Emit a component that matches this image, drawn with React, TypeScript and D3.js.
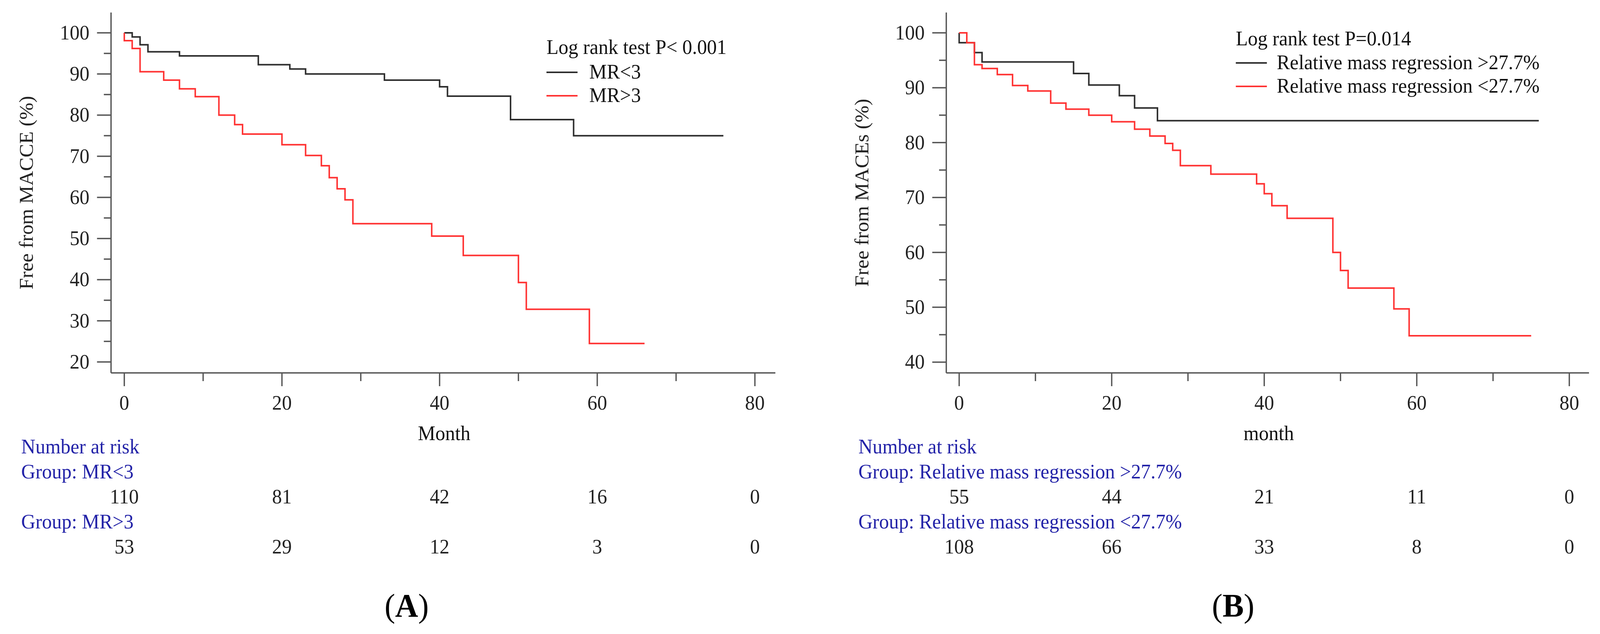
import React, { useEffect } from "react";
import * as d3 from "d3";

// Panel A: MR groups
const timesA1 = [0, 1, 2, 3, 7, 17, 21, 23, 33, 40, 41, 49, 57, 76];
const survA1 = [100, 99, 97.1, 95.4, 94.4, 92.25, 91.2, 90, 88.5, 86.9, 84.6, 78.9, 75, 75];
const timesA2 = [0, 0, 1, 2, 5, 7, 9, 12, 14, 15, 20, 23, 25, 26, 27, 28, 29, 39, 43, 50, 51, 59, 66];
const survA2 = [100, 98.1, 96.2, 90.55, 88.5, 86.4, 84.5, 80, 77.7, 75.4, 72.8, 70.2, 67.7, 64.8, 62.1, 59.4, 53.6, 50.6, 45.9, 39.3, 32.8, 24.5, 24.5];
const riskA1 = [110, 81, 42, 16, 0];
const riskA2 = [53, 29, 12, 3, 0];

// Panel B: relative mass regression groups
const timesB1 = [0, 0, 2, 3, 15, 17, 21, 23, 26, 76];
const survB1 = [100, 98.2, 96.4, 94.7, 92.6, 90.5, 88.55, 86.3, 84.0, 84.0];
const timesB2 = [0, 1, 2, 3, 5, 7, 9, 12, 14, 17, 20, 23, 25, 27, 28, 29, 33, 39, 40, 41, 43, 49, 50, 51, 57, 59, 75];
const survB2 = [100, 98.2, 94.2, 93.5, 92.4, 90.4, 89.4, 87.2, 86.1, 85.0, 83.8, 82.45, 81.2, 79.85, 78.6, 75.8, 74.25, 72.5, 70.7, 68.5, 66.2, 60.0, 56.7, 53.5, 49.7, 44.8, 44.8];
const riskB1 = [55, 44, 21, 11, 0];
const riskB2 = [108, 66, 33, 8, 0];

const riskTimes = [0, 20, 40, 60, 80];
const xMajor = [0, 20, 40, 60, 80];
const xMinor = [10, 30, 50, 70];

const W = 4222;
const H = 1622;
const FONT = "'Liberation Serif', 'Times New Roman', serif";
const FS = 52;
const AXIS = "#555555";
const BLACK = "#2e2e2e";
const RED = "#ff3333";
const BLUE = "#2323a8";

interface PanelProps {
  x0: number; // pixel of month 0
  x80: number; // pixel of month 80
  yAxisX: number;
  xAxisEnd: number;
  yDomain: [number, number];
  yRange: [number, number];
  yTop: number;
  yLabel: string;
  xLabel: string;
  xLabelX: number;
  legendX: number;
  legendTitleY: number;
  legendTitle: string;
  legendNames: string[];
  legendTextX: number;
  legendRowY: number[];
  curves: { t: number[]; s: number[]; color: string }[];
  riskLabelX: number;
  groupNames: string[];
  risks: number[][];
  panelLabel: string;
  panelLabelX: number;
}

const Panel: React.FC<PanelProps> = (p) => {
  const x = d3.scaleLinear().domain([0, 80]).range([p.x0, p.x80]);
  const y = d3.scaleLinear().domain(p.yDomain).range(p.yRange);
  const xAxisY = 954;

  const yMajor = d3.range(p.yDomain[0], p.yDomain[1] + 1, 10);
  const yMinor = d3.range(p.yDomain[0] + 5, p.yDomain[1], 10);

  const line = d3
    .line<[number, number]>()
    .x((d) => x(d[0]))
    .y((d) => y(d[1]))
    .curve(d3.curveStepAfter);

  return (
    <g fontFamily={FONT} fontSize={FS}>
      {/* axes */}
      <line x1={p.yAxisX} x2={p.yAxisX} y1={p.yTop} y2={xAxisY} stroke={AXIS} strokeWidth={3.5} />
      <line x1={p.yAxisX} x2={p.xAxisEnd} y1={xAxisY} y2={xAxisY} stroke={AXIS} strokeWidth={3.5} />
      {yMajor.map((v) => (
        <g key={"ym" + v}>
          <line x1={p.yAxisX - 37} x2={p.yAxisX} y1={y(v)} y2={y(v)} stroke={AXIS} strokeWidth={3.5} />
          <text x={p.yAxisX - 57} y={y(v) + 17} textAnchor="end" fill="#222">
            {v}
          </text>
        </g>
      ))}
      {yMinor.map((v) => (
        <line key={"yn" + v} x1={p.yAxisX - 19} x2={p.yAxisX} y1={y(v)} y2={y(v)} stroke={AXIS} strokeWidth={3.5} />
      ))}
      {xMajor.map((v) => (
        <g key={"xm" + v}>
          <line x1={x(v)} x2={x(v)} y1={xAxisY} y2={xAxisY + 34} stroke={AXIS} strokeWidth={3.5} />
          <text x={x(v)} y={1048} textAnchor="middle" fill="#222">
            {v}
          </text>
        </g>
      ))}
      {xMinor.map((v) => (
        <line key={"xn" + v} x1={x(v)} x2={x(v)} y1={xAxisY} y2={xAxisY + 21} stroke={AXIS} strokeWidth={3.5} />
      ))}
      <text x={p.xLabelX} y={1126} textAnchor="middle" fill="#111">
        {p.xLabel}
      </text>
      <text
        transform={`translate(${p.yAxisX - 206}, ${(p.yTop + xAxisY) / 2}) rotate(-90)`}
        textAnchor="middle"
        fill="#222"
      >
        {p.yLabel}
      </text>

      {/* survival curves */}
      {p.curves.map((c, i) => (
        <path
          key={"c" + i}
          d={line(c.t.map((t, j) => [t, c.s[j]] as [number, number])) || ""}
          fill="none"
          stroke={c.color}
          strokeWidth={4}
        />
      ))}

      {/* legend */}
      <text x={p.legendX} y={p.legendTitleY} fill="#111">
        {p.legendTitle}
      </text>
      {p.legendNames.map((n, i) => (
        <g key={"lg" + i}>
          <line
            x1={p.legendX}
            x2={p.legendX + 82}
            y1={p.legendRowY[i]}
            y2={p.legendRowY[i]}
            stroke={p.curves[i].color}
            strokeWidth={4}
          />
          <text x={p.legendTextX} y={p.legendRowY[i] + 16} fill="#111">
            {n}
          </text>
        </g>
      ))}

      {/* number at risk */}
      <text x={p.riskLabelX} y={1160} fill={BLUE}>
        Number at risk
      </text>
      {p.groupNames.map((g, i) => (
        <g key={"rg" + i}>
          <text x={p.riskLabelX} y={1224 + i * 128} fill={BLUE}>
            {g}
          </text>
          {p.risks[i].map((r, j) => (
            <text key={"r" + j} x={x(riskTimes[j])} y={1288 + i * 128} textAnchor="middle" fill="#222">
              {r}
            </text>
          ))}
        </g>
      ))}

      <text x={p.panelLabelX} y={1578} textAnchor="middle" fontSize={84} fill="#000">
        (<tspan fontWeight="bold">{p.panelLabel}</tspan>)
      </text>
    </g>
  );
};

const App: React.FC = () => {
  useEffect(() => {
    document.body.style.margin = "0";
    document.body.style.overflow = "hidden";
  }, []);

  return (
    <svg
      viewBox={`0 0 ${W} ${H}`}
      preserveAspectRatio="none"
      style={{ position: "fixed", left: 0, top: 0, width: "100vw", height: "100vh", display: "block", background: "#fff" }}
    >
      <rect width={W} height={H} fill="#fff" />
      <Panel
        x0={328}
        x80={1992}
        yAxisX={293}
        xAxisEnd={2046}
        yDomain={[20, 100]}
        yRange={[926, 84]}
        yTop={32}
        yLabel="Free from MACCE (%)"
        xLabel="Month"
        xLabelX={1172}
        legendX={1442}
        legendTitleY={138}
        legendTitle="Log rank test P< 0.001"
        legendNames={["MR<3", "MR>3"]}
        legendTextX={1555}
        legendRowY={[185, 245]}
        curves={[
          { t: timesA1, s: survA1, color: BLACK },
          { t: timesA2, s: survA2, color: RED },
        ]}
        riskLabelX={56}
        groupNames={["Group: MR<3", "Group: MR>3"]}
        risks={[riskA1, riskA2]}
        panelLabel="A"
        panelLabelX={1073}
      />
      <Panel
        x0={2531}
        x80={4141}
        yAxisX={2497}
        xAxisEnd={4193}
        yDomain={[40, 100]}
        yRange={[926.5, 84]}
        yTop={32}
        yLabel="Free from MACEs (%)"
        xLabel="month"
        xLabelX={3348}
        legendX={3261}
        legendTitleY={116}
        legendTitle="Log rank test P=0.014"
        legendNames={["Relative mass regression >27.7%", "Relative mass regression <27.7%"]}
        legendTextX={3369}
        legendRowY={[161, 221]}
        curves={[
          { t: timesB1, s: survB1, color: BLACK },
          { t: timesB2, s: survB2, color: RED },
        ]}
        riskLabelX={2265}
        groupNames={["Group: Relative mass regression >27.7%", "Group: Relative mass regression <27.7%"]}
        risks={[riskB1, riskB2]}
        panelLabel="B"
        panelLabelX={3254}
      />
    </svg>
  );
};

export default App;
